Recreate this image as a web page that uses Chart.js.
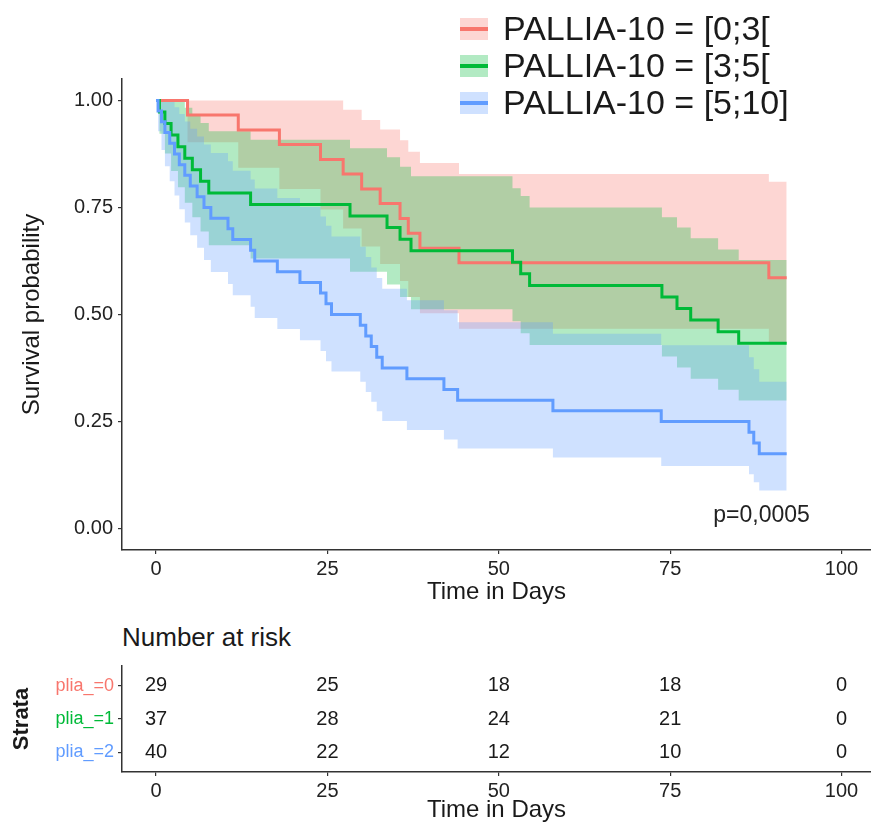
<!DOCTYPE html>
<html>
<head>
<meta charset="utf-8">
<script src="https://cdn.jsdelivr.net/npm/chart.js@4.4.1/dist/chart.umd.min.js"></script>
<style>
  body { margin: 0; background: #fff; font-family: "Liberation Sans", Arial, sans-serif; }
  #wrap { position: relative; width: 871px; height: 825px; overflow: hidden; }
  #km { position: absolute; left: 0; top: 0; }
  #risk { position: absolute; left: 0; top: 615px; }
  .legend { position: absolute; left: 460px; top: 10px; }
  .item { display: flex; align-items: center; height: 37px; font-size: 34px; color: #1a1a1a; word-spacing: 0px; white-space: nowrap; }
  .key { position: relative; width: 28px; height: 22px; margin-right: 15px; }
  .key .band { position: absolute; left: 0; top: 0; right: 0; bottom: 0; }
  .key .line { position: absolute; left: 0; right: 0; top: 9px; height: 4px; }
  .risktitle { position: absolute; left: 122px; top: 622px; font-size: 26px; line-height: 30px; color: #1a1a1a; }
</style>
</head>
<body>
<div id="wrap">
  <canvas id="km" width="871" height="615"></canvas>
  <div class="legend" id="legend"></div>
  <div class="risktitle">Number at risk</div>
  <canvas id="risk" width="871" height="210"></canvas>
</div>
<script>
// groups
const groupNames = ["PALLIA-10 = [0;3[", "PALLIA-10 = [3;5[", "PALLIA-10 = [5;10]"];
const strataLabels = ["plia_=0", "plia_=1", "plia_=2"];
const groupColors = ["#F8766D", "#00BA38", "#619CFF"];
const bandColors = ["rgba(248,118,109,0.3)", "rgba(0,186,56,0.3)", "rgba(97,156,255,0.3)"];

// Kaplan-Meier steps (time in days, survival, 95% band)
const redT  = [0, 4.6, 12, 18, 24, 27.3, 30, 32.7, 35.6, 36.8, 38.5, 44.2, 89.4, 92];
const redS  = [1, 0.966, 0.931, 0.897, 0.862, 0.828, 0.793, 0.759, 0.724, 0.690, 0.655, 0.621, 0.586, 0.586];
const redUp = [1, 1, 1, 1, 1, 0.978, 0.954, 0.932, 0.907, 0.880, 0.854, 0.828, 0.810, 0.810];
const redLo = [1, 0.902, 0.843, 0.793, 0.745, 0.701, 0.659, 0.618, 0.578, 0.541, 0.503, 0.467, 0.432, 0.432];

const greenT  = [0, 0.5, 1.3, 2.2, 3.2, 4.2, 5.3, 6.5, 7.7, 13.8, 28.3, 33.7, 35.6, 37.2, 52, 53.2, 54.5, 73.8, 76, 78, 82, 85, 92];
const greenS  = [1, 0.973, 0.946, 0.919, 0.892, 0.865, 0.838, 0.811, 0.784, 0.757, 0.730, 0.703, 0.676, 0.649, 0.622, 0.595, 0.568, 0.541, 0.514, 0.487, 0.460, 0.433, 0.433];
const greenUp = [1, 1, 1, 1, 0.998, 0.983, 0.965, 0.947, 0.928, 0.908, 0.888, 0.867, 0.845, 0.823, 0.795, 0.777, 0.750, 0.727, 0.703, 0.678, 0.652, 0.627, 0.627];
const greenLo = [1, 0.922, 0.876, 0.835, 0.797, 0.761, 0.727, 0.694, 0.662, 0.631, 0.600, 0.570, 0.541, 0.512, 0.484, 0.456, 0.429, 0.402, 0.376, 0.350, 0.324, 0.299, 0.299];

const blueT  = [0, 0.3, 0.8, 1.3, 2, 2.7, 3.4, 4.2, 5, 6, 7, 8, 10.5, 11.2, 13.8, 14.4, 17.7, 21, 24, 24.8, 25.6, 29.8, 30.6, 31.4, 32.2, 33, 36.6, 42, 44, 57.9, 73.7, 86.5, 87.2, 88, 92];
const blueS  = [1, 0.975, 0.95, 0.925, 0.90, 0.875, 0.85, 0.825, 0.80, 0.775, 0.75, 0.725, 0.70, 0.675, 0.65, 0.625, 0.60, 0.575, 0.55, 0.525, 0.50, 0.475, 0.45, 0.425, 0.40, 0.375, 0.35, 0.325, 0.30, 0.275, 0.25, 0.225, 0.20, 0.175, 0.175];
const blueUp = [1, 1, 1, 1, 0.998, 0.984, 0.968, 0.951, 0.934, 0.916, 0.897, 0.877, 0.858, 0.836, 0.815, 0.794, 0.772, 0.751, 0.729, 0.707, 0.682, 0.658, 0.634, 0.610, 0.585, 0.560, 0.533, 0.510, 0.482, 0.455, 0.428, 0.400, 0.372, 0.343, 0.343];
const blueLo = [1, 0.928, 0.884, 0.846, 0.811, 0.778, 0.746, 0.715, 0.685, 0.656, 0.627, 0.599, 0.571, 0.545, 0.518, 0.492, 0.466, 0.440, 0.415, 0.391, 0.367, 0.343, 0.319, 0.296, 0.274, 0.251, 0.230, 0.208, 0.187, 0.166, 0.146, 0.127, 0.108, 0.089, 0.089];

// number at risk table
const riskTimes = [0, 25, 50, 75, 100];
const riskRed   = [29, 25, 18, 18, 0];
const riskGreen = [37, 28, 24, 21, 0];
const riskBlue  = [40, 22, 12, 10, 0];

// axis ticks
const xTicks = [0, 25, 50, 75, 100];
const yTicks = [0, 0.25, 0.5, 0.75, 1];
const pValueText = "p=0,0005";

Chart.defaults.font.family = "'Liberation Sans', Arial, sans-serif";
Chart.defaults.color = "#1a1a1a";

const xMin = -4.96, xMax = 104.3;

function pts(t, v) {
    return t.map((x, i) => ({ x: x, y: v[i] }));
}

const groups = [
    { t: redT, s: redS, up: redUp, lo: redLo },
    { t: greenT, s: greenS, up: greenUp, lo: greenLo },
    { t: blueT, s: blueS, up: blueUp, lo: blueLo }
];

let datasets = [];
groups.forEach((g, i) => {
    datasets.push({
        data: pts(g.t, g.up), stepped: true, borderWidth: 0, pointRadius: 0,
        backgroundColor: bandColors[i], fill: "+1", order: 10 - i
    });
    datasets.push({
        data: pts(g.t, g.lo), stepped: true, borderWidth: 0, pointRadius: 0,
        fill: false, order: 10 - i
    });
});
groups.forEach((g, i) => {
    datasets.push({
        data: pts(g.t, g.s), stepped: true, borderColor: groupColors[i], borderWidth: 3,
        pointRadius: 0, fill: false, order: 3 - i
    });
});

const axisGrid = { drawOnChartArea: false, drawTicks: true, tickLength: 4, color: "#333", lineWidth: 1.2 };
const axisBorder = { display: true, color: "#333", width: 1.5 };

const pValuePlugin = {
    id: "pvalue",
    afterDatasetsDraw(chart) {
        const ctx = chart.ctx;
        ctx.save();
        ctx.font = "23px 'Liberation Sans', Arial, sans-serif";
        ctx.fillStyle = "#222";
        ctx.textAlign = "left";
        ctx.textBaseline = "middle";
        ctx.fillText(pValueText, chart.scales.x.getPixelForValue(81.3), chart.scales.y.getPixelForValue(0.03));
        ctx.restore();
    }
};

new Chart(document.getElementById("km"), {
    type: "line",
    data: { datasets: datasets },
    options: {
        responsive: false,
        animation: false,
        events: [],
        layout: { padding: { top: 79, right: 0, left: 0, bottom: 0 } },
        plugins: { legend: { display: false }, tooltip: { enabled: false } },
        scales: {
            x: {
                type: "linear", min: xMin, max: xMax,
                afterBuildTicks: axis => { axis.ticks = xTicks.map(v => ({ value: v })); },
                afterFit: axis => { axis.height = 65; },
                grid: axisGrid, border: axisBorder,
                ticks: { font: { size: 20 }, color: "#222", padding: 3 },
                title: { display: true, text: "Time in Days", font: { size: 24 }, padding: { top: 0, bottom: 8 } }
            },
            y: {
                type: "linear", min: -0.05, max: 1.05,
                afterBuildTicks: axis => { axis.ticks = yTicks.map(v => ({ value: v })); },
                afterFit: axis => { axis.width = 122; },
                grid: axisGrid, border: axisBorder,
                ticks: { font: { size: 20 }, color: "#222", padding: 5, callback: v => Number(v).toFixed(2) },
                title: { display: true, text: "Survival probability", font: { size: 24 }, padding: { top: 18, bottom: 0 } }
            }
        }
    },
    plugins: [pValuePlugin]
});

// legend
const legend = document.getElementById("legend");
groupNames.forEach((name, i) => {
    legend.innerHTML += `<div class="item"><div class="key"><div class="band" style="background:${bandColors[i]}"></div>` +
        `<div class="line" style="background:${groupColors[i]}"></div></div>${name}</div>`;
});

// risk table
const riskRows = [riskRed, riskGreen, riskBlue];
const riskDatasets = riskRows.map((row, i) => ({
    data: riskTimes.map((t, j) => ({ x: t, y: i + 1, n: row[j] })),
    showLine: false, pointRadius: 0
}));

const riskTextPlugin = {
    id: "risktext",
    afterDatasetsDraw(chart) {
        const ctx = chart.ctx;
        ctx.save();
        ctx.font = "20px 'Liberation Sans', Arial, sans-serif";
        ctx.fillStyle = "#1a1a1a";
        ctx.textAlign = "center";
        ctx.textBaseline = "middle";
        chart.data.datasets.forEach((ds, i) => {
            chart.getDatasetMeta(i).data.forEach((p, j) => {
                ctx.fillText(String(ds.data[j].n), p.x, p.y);
            });
        });
        ctx.restore();
    }
};

new Chart(document.getElementById("risk"), {
    type: "line",
    data: { datasets: riskDatasets },
    options: {
        responsive: false,
        animation: false,
        events: [],
        layout: { padding: { top: 51, right: 0, left: 0, bottom: 0 } },
        plugins: { legend: { display: false }, tooltip: { enabled: false } },
        scales: {
            x: {
                type: "linear", min: xMin, max: xMax,
                afterBuildTicks: axis => { axis.ticks = xTicks.map(v => ({ value: v })); },
                afterFit: axis => { axis.height = 53; },
                grid: axisGrid, border: axisBorder,
                ticks: { font: { size: 20 }, color: "#222", padding: 3 },
                title: { display: true, text: "Time in Days", font: { size: 24 }, padding: { top: 0, bottom: 0 } }
            },
            y: {
                type: "linear", min: 0.4, max: 3.6, reverse: true,
                afterBuildTicks: axis => { axis.ticks = [1, 2, 3].map(v => ({ value: v })); },
                afterFit: axis => { axis.width = 122; },
                grid: axisGrid, border: axisBorder,
                ticks: {
                    font: { size: 18 }, padding: 4,
                    color: ctx => groupColors[ctx.index],
                    callback: v => strataLabels[v - 1]
                },
                title: { display: true, text: "Strata", font: { size: 22, weight: "bold" }, padding: { top: 9, bottom: 0 } }
            }
        }
    },
    plugins: [riskTextPlugin]
});
</script>
</body>
</html>
